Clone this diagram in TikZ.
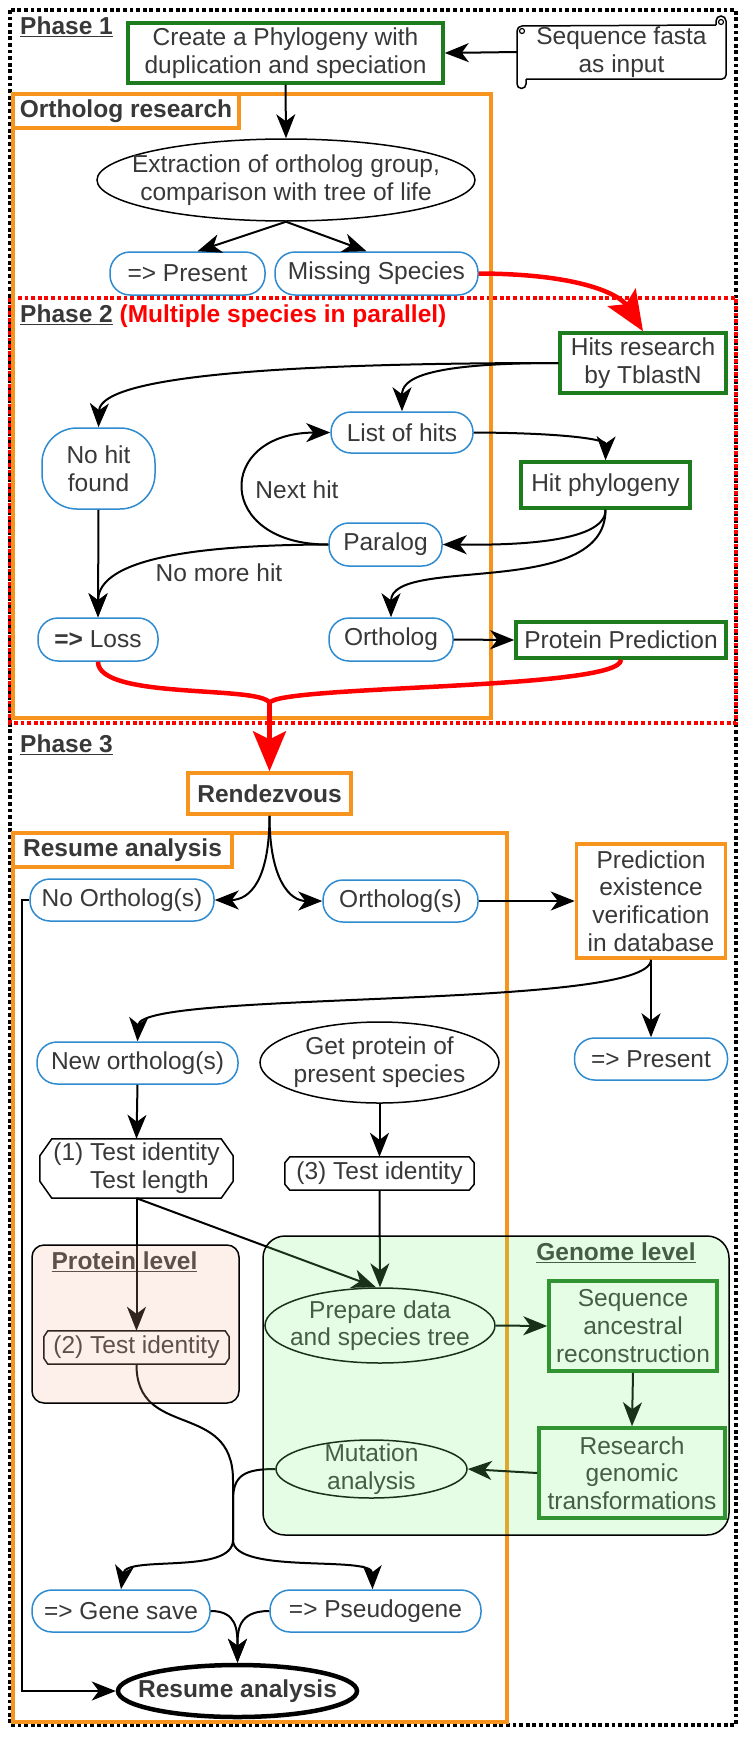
\documentclass[tikz,border=0pt]{standalone}
\usepackage{fontspec}
\setmainfont{Liberation Sans}
\usetikzlibrary{arrows.meta,shapes.geometric}
\definecolor{txt}{HTML}{383838}
\definecolor{grn}{HTML}{1E7B1E}
\definecolor{org}{HTML}{F7941D}
\definecolor{blu}{HTML}{2E8BD0}
\definecolor{rd}{HTML}{FF0000}
\definecolor{gfill}{RGB}{125,245,125}
\definecolor{pfill}{RGB}{245,175,150}
\newcommand\myocta[3]{\draw[line width=1.5pt] ([xshift=#2]#1.north west) -- ([xshift=-#2]#1.north east) -- ([yshift=-#3]#1.north east) -- ([yshift=#3]#1.south east) -- ([xshift=-#2]#1.south east) -- ([xshift=#2]#1.south west) -- ([yshift=#3]#1.south west) -- ([yshift=-#3]#1.north west) -- cycle;}
\tikzset{
 base/.style={font=\fontsize{24.5}{27.7}\selectfont, text=txt, inner sep=0pt, align=center},
 bf/.style={font=\fontsize{24.5}{27.7}\selectfont\bfseries},
 gbox/.style={base, draw=grn, line width=3.5pt, fill=white, rectangle},
 obox/.style={base, draw=org, line width=3.5pt, fill=white, rectangle},
 bnode/.style={base, draw=blu, line width=1.5pt, rounded corners=20pt, fill=white, rectangle},
 enode/.style={base, draw=black, line width=1.5pt, ellipse, fill=white},
 edge/.style={draw=black, line width=2pt},
 arr/.style={edge, -{Stealth[length=24pt,width=19pt,inset=7pt]}},
 redl/.style={draw=rd, line width=4.5pt},
 redarr/.style={redl, -{Stealth[length=40pt,width=33pt,inset=8pt]}},
 phase/.style={base, bf, anchor=west},
 frame/.style={line width=3.8pt, dash pattern=on 3.8pt off 2.8pt},
}
\begin{document}
\begin{tikzpicture}[x=1pt,y=-1pt]
\useasboundingbox (0,0) rectangle (747,1737);
% frames
\draw[frame] (10,10) rectangle (736,1725);
\draw[frame,draw=rd] (10,298) rectangle (736,723);
\draw[draw=org,line width=3.5pt] (13,94) rectangle (491,718);
\draw[draw=org,line width=3.5pt] (13,833) rectangle (507,1722);
% labels
\node[phase] (ph1) at (20,27) {\underline{Phase 1}};
\node[phase] (ph2) at (20,316) {\underline{Phase 2} \textcolor{rd}{(Multiple species in parallel)}};
\node[phase] (ph3) at (20,745) {\underline{Phase 3}};
\node[obox, bf, minimum width=226pt, minimum height=34pt] (orlab) at (126,111) {Ortholog research};
\node[obox, bf, minimum width=219pt, minimum height=34pt] (ralab) at (122.5,850) {Resume analysis};
% phase 1
\node[gbox, minimum width=315pt, minimum height=60pt] (create) at (285.5,53) {Create a Phylogeny with\\duplication and speciation};
\node[base, minimum width=209pt, minimum height=55pt] (seq) at (621.5,52) {Sequence fasta\\as input};
\draw[line width=1.5pt] (517,31) arc[start angle=180,end angle=90,radius=5pt] -- (716,25);
\draw[line width=1.5pt] (716,25) -- (716,21) arc[start angle=180,end angle=0,radius=5pt] -- (726,75) arc[start angle=0,end angle=-90,radius=4pt] -- (526,79);
\draw[line width=1.5pt] (517,31) -- (517,84) arc[start angle=180,end angle=360,radius=4.5pt] -- (526,79);
\draw[line width=1.2pt] (721,22) circle (2.5pt);
\draw[line width=1.2pt] (522,31) circle (2.5pt);
\node[enode, minimum width=378pt, minimum height=82pt, label={[base]center:{Extraction of ortholog group,\\comparison with tree of life}}] (ell) at (286,180) {};
\node[bnode, minimum width=155pt, minimum height=43pt] (pres1) at (187.5,273.5) {=> Present};
\node[bnode, minimum width=203pt, minimum height=43pt] (miss) at (376.5,273.5) {Missing Species};
% phase 2
\node[gbox, minimum width=166pt, minimum height=60pt] (hits) at (643,363) {Hits research\\by TblastN};
\node[bnode, minimum width=142pt, minimum height=41pt] (lists) at (402,432.5) {List of hits};
\node[bnode, rounded corners=35pt, minimum width=113pt, minimum height=81pt] (nohit) at (98.5,468.5) {No hit\\found};
\node[gbox, minimum width=169pt, minimum height=46pt] (hitphy) at (605.5,485) {Hit phylogeny};
\node[bnode, minimum width=113pt, minimum height=43pt] (para) at (385.5,544.5) {Paralog};
\node[bnode, minimum width=120pt, minimum height=43pt] (loss) at (98,639.5) {\textbf{=>} Loss};
\node[bnode, minimum width=124pt, minimum height=43pt] (orth) at (391,639.5) {Ortholog};
\node[gbox, minimum width=210pt, minimum height=36pt] (pp) at (621,640) {Protein Prediction};
\node[base] (nexthit) at (297,490) {Next hit};
\node[base] (nomore) at (219,573) {No more hit};
% phase 3
\node[obox, bf, minimum width=163pt, minimum height=41pt] (rdv) at (269.5,793.5) {Rendezvous};
\node[bnode, minimum width=184pt, minimum height=42pt] (noorth) at (122,900) {No Ortholog(s)};
\node[bnode, minimum width=155pt, minimum height=42pt] (orths) at (400.5,901) {Ortholog(s)};
\node[obox, minimum width=149pt, minimum height=114pt] (pred) at (651,901) {Prediction\\existence\\verification\\in database};
\node[bnode, minimum width=201pt, minimum height=42pt] (neworth) at (137.5,1063) {New ortholog(s)};
\node[enode, minimum width=239pt, minimum height=81pt, label={[base]center:{Get protein of\\present species}}] (getprot) at (379.5,1062.5) {};
\node[bnode, minimum width=153pt, minimum height=42pt] (pres2) at (651,1059) {=> Present};
\node[base, minimum width=193pt, minimum height=59pt, align=left] (t1) at (136.5,1168.5) {(1) Test identity\\\phantom{(1) }Test length};
\myocta{t1}{12pt}{17pt}
\node[base, minimum width=189pt, minimum height=33pt] (t3) at (379.5,1173.5) {(3) Test identity};
\myocta{t3}{5pt}{6pt}
\node[base, minimum width=185pt, minimum height=33pt] (t2) at (136.5,1347.5) {(2) Test identity};
\myocta{t2}{4pt}{6pt}
\node[base, bf] (plab) at (124.5,1262) {\underline{Protein level}};
\node[base, bf] (glab) at (616,1253) {\underline{Genome level}};
\node[enode, minimum width=230pt, minimum height=75pt, label={[base]center:{Prepare data\\and species tree}}] (prep) at (380,1325.5) {};
\node[gbox, minimum width=168pt, minimum height=90pt] (seqr) at (633,1326) {Sequence\\ancestral\\reconstruction};
\node[gbox, minimum width=186pt, minimum height=90pt] (research) at (632,1473) {Research\\genomic\\transformations};
\node[enode, minimum width=191pt, minimum height=58pt, label={[base]center:{Mutation\\analysis}}] (mut) at (371.5,1469) {};
\node[bnode, minimum width=178pt, minimum height=42pt] (gs) at (121,1611) {=> Gene save};
\node[bnode, minimum width=211pt, minimum height=42pt] (ps) at (375.5,1611) {=> Pseudogene};
\node[enode, line width=4.5pt, minimum width=239pt, minimum height=52pt, label={[base,bf]center:Resume analysis}] (resume) at (237.5,1691) {};
% edges phase 1
\draw[arr] (seq.west) -- (create.east);
\draw[arr] (create.south) -- (ell.north);
\draw[arr] (ell.south) -- ([xshift=10pt]pres1.north);
\draw[arr] (ell.south) -- ([xshift=-10pt]miss.north);
\draw[redarr] (miss.east) .. controls (590,274) and (622,298) .. (hits.north);
% edges phase 2
\draw[arr] (hits.west) .. controls (200,363) and (100,385) .. (nohit.north);
\draw[arr] (hits.west) .. controls (420,363) and (402,380) .. (lists.north);
\draw[arr] (lists.east) .. controls (570,433) and (606,440) .. (hitphy.north);
\draw[arr] (hitphy.south) .. controls (606,545) and (500,545) .. (para.east);
\draw[arr] (hitphy.south) .. controls (606,600) and (391,555) .. (orth.north);
\draw[arr] (para.west) .. controls (215,545) and (215,433) .. (lists.west);
\draw[arr] (para.west) .. controls (150,545) and (98,570) .. (loss.north);
\draw[arr] (nohit.south) -- (loss.north);
\draw[arr] (orth.east) -- (pp.west);
\coordinate (J) at (269.5,703);
\draw[redl] (loss.south) .. controls (98,700) and (262,685) .. (J);
\draw[redl] (pp.south) .. controls (621,690) and (277,685) .. (J);
\draw[redarr] (J) -- (rdv.north);
% edges phase 3
\draw[arr] (rdv.south) .. controls (269.5,880) and (250,900) .. (noorth.east);
\draw[arr] (rdv.south) .. controls (269.5,880) and (290,901) .. (orths.west);
\draw[arr] (orths.east) -- (pred.west);
\draw[arr] (pred.south) .. controls (651,1010) and (140,990) .. (neworth.north);
\draw[arr] (pred.south) -- (pres2.north);
\draw[arr] (noorth.west) -- ++(-7,0) |- (resume.west);
\draw[arr] (neworth.south) -- (t1.north);
\draw[arr] (getprot.south) -- (t3.north);
\draw[arr] (t1.south) -- (t2.north);
\draw[arr] (t1.south) -- ([xshift=-4pt]prep.north);
\draw[arr] (t3.south) -- (prep.north);
\draw[arr] (prep.east) -- (seqr.west);
\draw[arr] (seqr.south) -- (research.north);
\draw[arr] (research.west) -- (mut.east);
\coordinate (M) at (233,1540);
\draw[edge] (t2.south) .. controls (136,1440) and (233,1400) .. (233,1480) -- (M);
\draw[edge] (mut.west) .. controls (245,1469) and (233,1475) .. (233,1500) -- (M);
\draw[arr] (M) .. controls (233,1575) and (126,1555) .. (gs.north);
\draw[arr] (M) .. controls (233,1575) and (372,1555) .. ([xshift=-3pt]ps.north);
\draw[arr] (gs.east) .. controls (237,1611) and (237.5,1630) .. (resume.north);
\draw[arr] (ps.west) .. controls (238,1611) and (237.5,1630) .. (resume.north);
% translucent regions
\fill[gfill, fill opacity=0.2, rounded corners=22pt] (263,1236) rectangle (729,1535);
\draw[line width=1.5pt, rounded corners=22pt] (263,1236) rectangle (729,1535);
\fill[pfill, fill opacity=0.2, rounded corners=12pt] (32,1245) rectangle (239,1403);
\draw[line width=1.5pt, rounded corners=12pt] (32,1245) rectangle (239,1403);
\end{tikzpicture}
\end{document}
